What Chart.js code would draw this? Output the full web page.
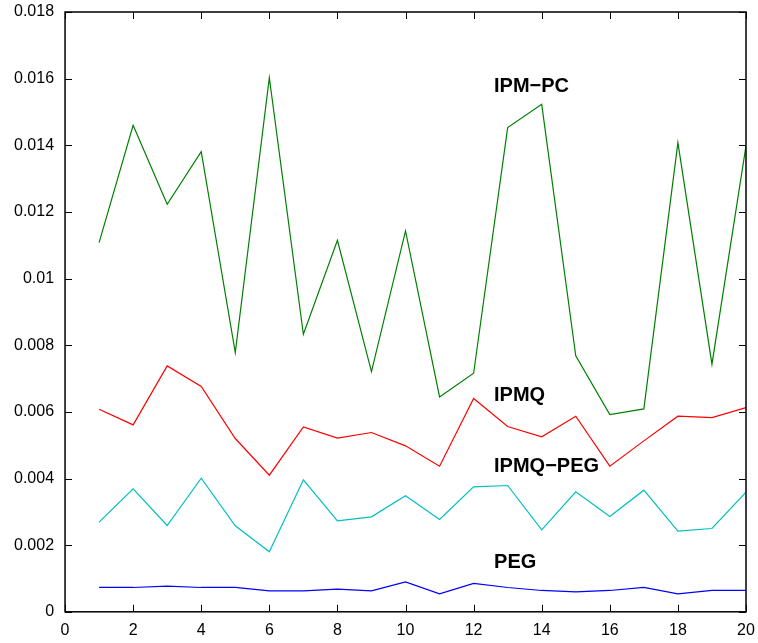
<!DOCTYPE html>
<html>
<head>
<meta charset="utf-8">
<script src="https://cdn.jsdelivr.net/npm/chart.js@4"></script>
<style>
  body { margin: 0; background: #fff; }
  #wrap { width: 758px; height: 643px; }
</style>
</head>
<body>
<div id="wrap"><canvas id="lineChart"></canvas></div>
<script>
var xValues = [1, 2, 3, 4, 5, 6, 7, 8, 9, 10, 11, 12, 13, 14, 15, 16, 17, 18, 19, 20];

var ipmPc = [0.01108, 0.0146, 0.01223, 0.01381, 0.00778, 0.01603, 0.00833, 0.01115, 0.00721, 0.01143,
             0.00645, 0.00716, 0.01453, 0.01523, 0.00768, 0.00592, 0.00609, 0.01408, 0.00743, 0.01398];
var ipmq = [0.00608, 0.00561, 0.00738, 0.00676, 0.0052, 0.0041, 0.00555, 0.00521, 0.00538, 0.00498,
            0.00437, 0.0064, 0.00556, 0.00525, 0.00587, 0.00437, 0.00513, 0.00587, 0.00583, 0.00613];
var ipmqPeg = [0.00269, 0.00369, 0.00259, 0.00401, 0.00258, 0.0018, 0.00396, 0.00273, 0.00285, 0.00348,
               0.00277, 0.00375, 0.00379, 0.00246, 0.0036, 0.00286, 0.00365, 0.00242, 0.0025, 0.00359];
var peg = [0.00073, 0.00073, 0.00077, 0.00073, 0.00073, 0.00063, 0.00063, 0.00068, 0.00063, 0.0009,
           0.00054, 0.00085, 0.00073, 0.00064, 0.0006, 0.00064, 0.00073, 0.00054, 0.00064, 0.00064];

// text labels placed in data units
var labelText = ['IPM\u2212PC', 'IPMQ', 'IPMQ\u2212PEG', 'PEG'];
var labelX = [12.6, 12.6, 12.6, 12.6];
var labelY = [0.01575, 0.00648, 0.00436, 0.00147];

var fontFamily = "'Liberation Sans', Arial, Helvetica, sans-serif";

function toPoints(ys) {
    return xValues.map(function(x, i) { return { x: x, y: ys[i] }; });
}

// matlab style box with inward ticks, plus the curve labels
var framePlugin = {
    id: 'framePlugin',
    afterDatasetsDraw: function(chart) {
        var ctx = chart.ctx;
        var a = chart.chartArea;
        var xs = chart.scales.x;
        var ys = chart.scales.y;
        var len = 7;
        ctx.save();
        ctx.strokeStyle = '#000';
        ctx.lineWidth = 1;
        ctx.beginPath();
        xs.ticks.forEach(function(t) {
            var px = Math.round(xs.getPixelForValue(t.value)) + 0.5;
            ctx.moveTo(px, a.bottom); ctx.lineTo(px, a.bottom - len);
            ctx.moveTo(px, a.top); ctx.lineTo(px, a.top + len);
        });
        ys.ticks.forEach(function(t) {
            var py = Math.round(ys.getPixelForValue(t.value)) + 0.5;
            ctx.moveTo(a.left, py); ctx.lineTo(a.left + len, py);
            ctx.moveTo(a.right, py); ctx.lineTo(a.right - len, py);
        });
        ctx.stroke();
        ctx.lineWidth = 1.5;
        ctx.strokeRect(a.left, a.top, a.right - a.left, a.bottom - a.top);

        ctx.fillStyle = '#000';
        ctx.font = 'bold 20px ' + fontFamily;
        ctx.textBaseline = 'middle';
        ctx.textAlign = 'left';
        labelText.forEach(function(txt, i) {
            ctx.fillText(txt, xs.getPixelForValue(labelX[i]), ys.getPixelForValue(labelY[i]));
        });
        ctx.restore();
    }
};

var ctx = document.getElementById('lineChart').getContext('2d');
var lineChart = new Chart(ctx, {
    type: 'line',
    data: {
        datasets: [
            { label: 'IPM-PC', data: toPoints(ipmPc), borderColor: '#008000' },
            { label: 'IPMQ', data: toPoints(ipmq), borderColor: '#ff0000' },
            { label: 'IPMQ-PEG', data: toPoints(ipmqPeg), borderColor: '#00bfbf' },
            { label: 'PEG', data: toPoints(peg), borderColor: '#0000ff' }
        ]
    },
    options: {
        responsive: true,
        maintainAspectRatio: false,
        animation: false,
        layout: { padding: { left: 3, right: 12, top: 12, bottom: -6 } },
        elements: {
            line: { borderWidth: 1.2, tension: 0, fill: false },
            point: { radius: 0 }
        },
        plugins: {
            legend: { display: false },
            tooltip: { enabled: false }
        },
        scales: {
            x: {
                type: 'linear',
                min: 0,
                max: 20,
                grid: { display: false, drawTicks: false },
                border: { display: false },
                afterFit: function(scale) { scale.paddingLeft = 0; scale.paddingRight = 0; },
                ticks: {
                    stepSize: 2,
                    padding: 9,
                    color: '#000',
                    maxRotation: 0,
                    font: { family: fontFamily, size: 16 }
                }
            },
            y: {
                min: 0,
                max: 0.018,
                grid: { display: false, drawTicks: false },
                border: { display: false },
                afterFit: function(scale) { scale.paddingTop = 0; scale.paddingBottom = 0; },
                ticks: {
                    stepSize: 0.002,
                    padding: 11,
                    color: '#000',
                    font: { family: fontFamily, size: 16 },
                    callback: function(v) { return String(+v.toFixed(3)); }
                }
            }
        }
    },
    plugins: [framePlugin]
});
</script>
</body>
</html>
